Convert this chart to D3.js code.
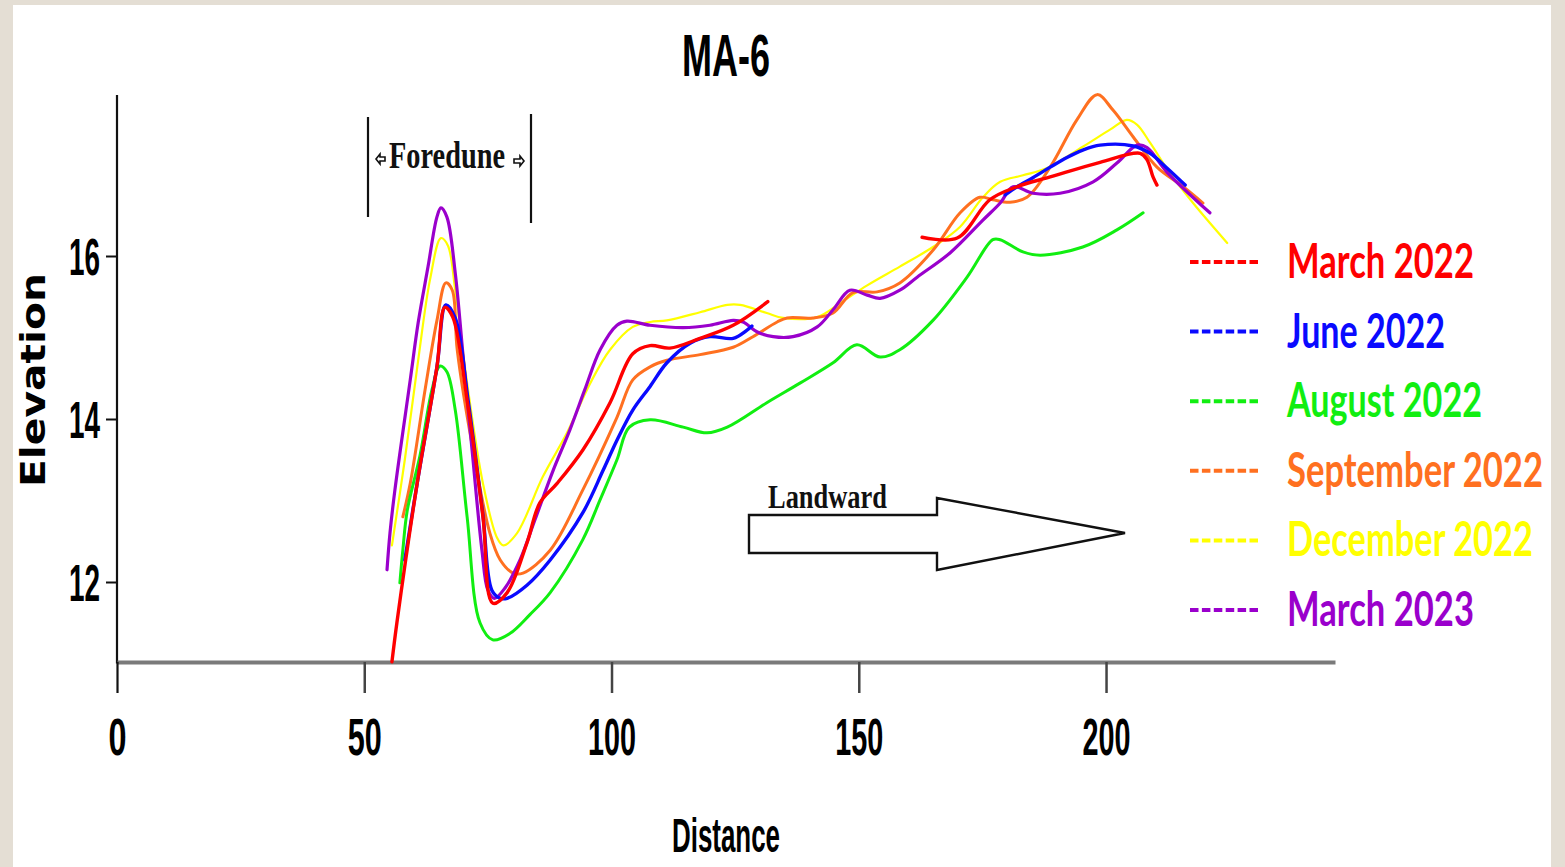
<!DOCTYPE html>
<html>
<head>
<meta charset="utf-8">
<script src="https://cdn.jsdelivr.net/npm/d3@7"></script>
<style>
  html, body { margin: 0; padding: 0; background: #e4ded4; }
  svg { display: block; }
</style>
</head>
<body>
<svg id="chart" width="1565" height="867"></svg>
<script>
// Survey dates and their line colours
const seriesNames  = ["March 2022", "June 2022", "August 2022", "September 2022", "December 2022", "March 2023"];
const seriesColors = ["#ff0000", "#0a0aff", "#11ee11", "#ff7020", "#ffff00", "#9a00cc"];

const xTickValues = [0, 50, 100, 150, 200];
const yTickValues = [12, 14, 16];

// Profile readings: distance along the transect and elevation (null = no survey)
const march2022Dist = [55.6, 56.6, 60.7, 64.7, 66.3, 67.9, 70.8, 74.0, 76.0, 78.9, 82.9, 85.5, 89.0, 94.2, 99.7, 104.3, 107.8, 111.8, 117.9, 124.6, 131.6,
                       147, 162.8, 169.9, 176.5, 182.0, 188.7, 198.8, 206.9, 208.3, 209.5, 210.3];
const march2022Elev = [11.02, 11.50, 13.21, 14.64, 15.37, 15.25, 14.23, 12.80, 11.74, 11.87, 12.48, 12.97, 13.21, 13.62, 14.20, 14.80, 14.90, 14.87, 14.99, 15.15, 15.44,
                       null, 16.23, 16.22, 16.69, 16.85, 16.97, 17.15, 17.26, 17.18, 16.97, 16.87];

const june2022Dist = [58.2, 60.7, 64.7, 66.5, 68.4, 71.0, 74.0, 75.8, 77.5, 78.9, 82.9, 87.6, 94.2, 98.3, 101.1, 104.3, 107.8, 111.2, 115.9, 119.9, 124.6, 127.4, 128.4,
                      150, 179.6, 182.0, 185.2, 188.7, 192.1, 195.3, 198.8, 205.5, 208.9, 212.3, 216.0];
const june2022Elev = [12.27, 13.21, 14.64, 15.40, 15.24, 14.23, 12.82, 11.90, 11.80, 11.80, 11.96, 12.27, 12.85, 13.37, 13.74, 14.11, 14.40, 14.69, 14.93, 15.01, 14.99, 15.09, 15.14,
                      null, 16.75, 16.85, 16.96, 17.09, 17.21, 17.30, 17.36, 17.35, 17.26, 17.08, 16.87];

const august2022Dist = [57.2, 57.8, 58.7, 61.3, 63.7, 65.3, 66.7, 68.4, 70.8, 73.4, 76.0, 79.5, 83.5, 87.6, 94.2, 97.7, 101.1, 103.6, 107.8, 114.5, 119.3, 123.4,
                        131.4, 138.1, 144.8, 149.6, 154.3, 158.3, 165.0, 171.9, 177.1, 178.6, 183.2, 186.7, 195.3, 202.2, 207.5];
const august2022Elev = [11.99, 12.39, 12.88, 13.56, 14.36, 14.65, 14.58, 14.11, 12.80, 11.50, 11.29, 11.37, 11.60, 11.87, 12.52, 13.01, 13.50, 13.90, 13.99, 13.90, 13.83, 13.90,
                        14.20, 14.44, 14.69, 14.91, 14.76, 14.85, 15.21, 15.74, 16.20, 16.20, 16.05, 16.01, 16.11, 16.32, 16.53];

const september2022Dist = [57.8, 59.3, 62.3, 64.7, 66.5, 67.8, 68.8, 72.0, 75.4, 77.5, 80.1, 82.1, 87.6, 94.2, 101.1, 104.3, 107.8, 111.2, 117.9, 124.6, 128.6,
                           133.5, 135.5, 140.7, 144.8, 148.8, 153.7, 158.3, 165.0, 170.5, 174.5, 177.1, 180.6, 184.0, 188.7, 194.1, 198.2, 201.4, 205.5, 210.3, 215.6, 219.6];
const september2022Elev = [12.80, 13.21, 14.36, 15.21, 15.67, 15.58, 14.85, 13.62, 12.60, 12.27, 12.11, 12.11, 12.39, 13.13, 14.02, 14.48, 14.64, 14.72, 14.79, 14.88, 15.01,
                           15.19, 15.24, 15.24, 15.30, 15.55, 15.56, 15.67, 16.07, 16.53, 16.72, 16.69, 16.66, 16.72, 17.09, 17.67, 17.98, 17.79, 17.46, 17.09, 16.85, 16.65];

const december2022Dist = [55.6, 58.2, 60.9, 63.3, 65.5, 66.9, 68.4, 70.8, 74.0, 76.8, 78.1, 80.9, 86.1, 91.0, 95.7, 99.7, 104.3, 107.8, 111.2, 117.9, 123.4, 126.0,
                          131.4, 134.7, 141.6, 146.2, 151.7, 158.3, 165.0, 170.5, 175.1, 178.6, 183.2, 188.1, 195.3, 200.8, 204.2, 206.3, 208.9, 212.9, 217.6, 224.5];
const december2022Elev = [12.45, 13.50, 14.72, 15.71, 16.22, 16.13, 15.58, 14.44, 13.21, 12.55, 12.45, 12.60, 13.29, 13.83, 14.44, 14.85, 15.13, 15.19, 15.21, 15.31, 15.40, 15.40,
                          15.30, 15.24, 15.25, 15.42, 15.64, 15.87, 16.11, 16.36, 16.72, 16.91, 16.99, 17.08, 17.34, 17.55, 17.67, 17.61, 17.39, 17.02, 16.65, 16.16];

const march2023Dist = [54.6, 55.2, 56.2, 59.3, 60.9, 62.9, 64.7, 65.5, 66.7, 68.4, 70.0, 71.8, 73.8, 75.0, 76.3, 78.5, 81.5, 84.5, 88.2, 91.6, 94.6, 97.7, 101.1, 103.1,
                       107.8, 114.5, 119.9, 124.6, 126.6, 129.4, 132.7, 136.7, 141.6, 144.8, 148.2, 151.7, 154.3, 158.3, 161.8, 168.5, 175.1, 178.6, 181.2, 185.2,
                       190.7, 197.4, 202.2, 206.3, 208.3, 212.3, 221.0];
const march2023Elev = [12.15, 12.60, 13.13, 14.48, 15.18, 15.87, 16.48, 16.59, 16.48, 15.79, 14.76, 13.62, 12.39, 11.90, 11.80, 11.93, 12.27, 12.76, 13.37, 13.87, 14.36, 14.85, 15.15, 15.20,
                       15.15, 15.12, 15.15, 15.21, 15.19, 15.07, 15.01, 15.01, 15.13, 15.34, 15.58, 15.52, 15.48, 15.58, 15.74, 16.04, 16.44, 16.65, 16.85, 16.77,
                       16.77, 16.91, 17.14, 17.36, 17.33, 17.03, 16.53];

const seriesDist = [march2022Dist, june2022Dist, august2022Dist, september2022Dist, december2022Dist, march2023Dist];
const seriesElev = [march2022Elev, june2022Elev, august2022Elev, september2022Elev, december2022Elev, march2023Elev];

// ---------------------------------------------------------------------------
const svg = d3.select("#chart");

// white sheet on the beige backdrop
svg.append("rect").attr("x", 13).attr("y", 5).attr("width", 1538).attr("height", 862).attr("fill", "#ffffff");

const x = d3.scaleLinear().domain([0, 246.3]).range([117, 1335]);
const y = d3.scaleLinear().domain([11, 18]).range([663.5, 93]);

// squeeze a text element to a given width
function squeeze(sel, w) {
  sel.attr("textLength", w).attr("lengthAdjust", "spacingAndGlyphs");
  return sel;
}

// title
squeeze(svg.append("text")
  .attr("x", 726).attr("y", 76)
  .attr("text-anchor", "middle")
  .attr("font-family", "Liberation Sans, Arial, sans-serif")
  .attr("font-weight", "bold").attr("font-size", 60)
  .attr("fill", "#000")
  .text("MA-6"), 88);

// y axis
const yAxisG = svg.append("g").attr("transform", `translate(${x(0)},0)`);
yAxisG.call(d3.axisLeft(y).tickValues(yTickValues).tickSize(11).tickPadding(6).tickFormat(d3.format("d")));
yAxisG.select(".domain").remove();
yAxisG.selectAll(".tick line").attr("stroke", "#111").attr("stroke-width", 2);
yAxisG.selectAll(".tick text").each(function () {
  const t = d3.select(this);
  t.attr("font-family", "Liberation Sans, Arial, sans-serif").attr("font-weight", "bold")
   .attr("font-size", 51).attr("fill", "#000").attr("dy", "0.36em");
  squeeze(t, 31);
});
svg.append("line")
  .attr("x1", x(0)).attr("x2", x(0))
  .attr("y1", y(18) + 2).attr("y2", y(11))
  .attr("stroke", "#111").attr("stroke-width", 2.2);

// x axis
const xAxisG = svg.append("g").attr("transform", `translate(0,662)`);
xAxisG.call(d3.axisBottom(x).tickValues(xTickValues).tickSize(31).tickPadding(26).tickSizeOuter(0));
xAxisG.select(".domain").attr("stroke", "#7a7a7a").attr("stroke-width", 4);
xAxisG.selectAll(".tick line").attr("stroke", d => d === 0 ? "#111" : "#444").attr("stroke-width", d => d === 0 ? 2.2 : 2.5);
xAxisG.selectAll(".tick text").each(function (d) {
  const t = d3.select(this);
  t.attr("font-family", "Liberation Sans, Arial, sans-serif").attr("font-weight", "bold")
   .attr("font-size", 51).attr("fill", "#000");
  const s = String(d);
  squeeze(t, s.length === 1 ? 18 : s.length === 2 ? 34 : 48);
});

// axis titles
squeeze(svg.append("text")
  .attr("x", 726).attr("y", 852)
  .attr("text-anchor", "middle")
  .attr("font-family", "Liberation Sans, Arial, sans-serif")
  .attr("font-weight", "bold").attr("font-size", 48)
  .attr("fill", "#000")
  .text("Distance"), 108);

squeeze(svg.append("text")
  .attr("transform", "translate(45,380) rotate(-90)")
  .attr("text-anchor", "middle")
  .attr("font-family", "DejaVu Sans, Verdana, sans-serif")
  .attr("font-weight", "bold").attr("font-size", 33)
  .attr("fill", "#000")
  .text("Elevation"), 214);

// profile lines
const line = d3.line()
  .defined(d => d[1] !== null)
  .x(d => x(d[0]))
  .y(d => y(d[1]))
  .curve(d3.curveCatmullRom.alpha(0.5));

const drawOrder = [4, 3, 2, 5, 1, 0];
const strokeW = [3.4, 3.4, 3, 3, 2.2, 3.2];
drawOrder.forEach(i => {
  const pts = seriesDist[i].map((d, k) => [d, seriesElev[i][k]]);
  svg.append("path")
    .datum(pts)
    .attr("d", line)
    .attr("fill", "none")
    .attr("stroke", seriesColors[i])
    .attr("stroke-width", strokeW[i])
    .attr("stroke-linejoin", "round")
    .attr("stroke-linecap", "round");
});

// foredune bracket
const ann = svg.append("g").attr("stroke", "#111").attr("stroke-width", 2.2);
ann.append("line").attr("x1", 368).attr("x2", 368).attr("y1", 117).attr("y2", 217);
ann.append("line").attr("x1", 531).attr("x2", 531).attr("y1", 114).attr("y2", 223);
squeeze(svg.append("text")
  .attr("x", 389).attr("y", 168)
  .attr("font-family", "Liberation Serif, Times New Roman, serif")
  .attr("font-weight", "bold").attr("font-size", 37)
  .attr("fill", "#111")
  .text("Foredune"), 116);
// small double-arrow marks either side of the label
svg.append("path")
  .attr("d", "M376,159 L380,154 L380,157 L385,157 L385,161 L380,161 L380,164 Z")
  .attr("fill", "#fff").attr("stroke", "#111").attr("stroke-width", 1.6);
svg.append("path")
  .attr("d", "M524,161 L520,156 L520,159 L514,159 L514,163 L520,163 L520,166 Z")
  .attr("fill", "#fff").attr("stroke", "#111").attr("stroke-width", 1.6);

// landward arrow
squeeze(svg.append("text")
  .attr("x", 768).attr("y", 508)
  .attr("font-family", "Liberation Serif, Times New Roman, serif")
  .attr("font-weight", "bold").attr("font-size", 34)
  .attr("fill", "#111")
  .text("Landward"), 119);
svg.append("path")
  .attr("d", "M749,515 L937,515 L937,498 L1125,533 L937,570 L937,553 L749,553 Z")
  .attr("fill", "#fff").attr("stroke", "#111").attr("stroke-width", 2.4);

// legend: swatch plus tall, narrow label
const legendY0 = 262, legendStep = 69.6;
const legendW = [187, 158, 195, 256, 246, 187];
seriesNames.forEach((name, i) => {
  const ly = legendY0 + i * legendStep;
  svg.append("line")
    .attr("x1", 1190).attr("x2", 1258).attr("y1", ly).attr("y2", ly)
    .attr("stroke", seriesColors[i]).attr("stroke-width", 4)
    .attr("stroke-dasharray", "8.5,3.4");
  squeeze(svg.append("g")
    .attr("transform", `translate(1287,${ly + 16}) scale(1,1.34)`)
    .append("text")
    .attr("x", 0).attr("y", 0)
    .attr("font-family", "Lato, Open Sans, sans-serif")
    .attr("font-weight", "bold").attr("font-size", 36)
    .attr("fill", seriesColors[i])
    .text(name), legendW[i]);
});
</script>
</body>
</html>
